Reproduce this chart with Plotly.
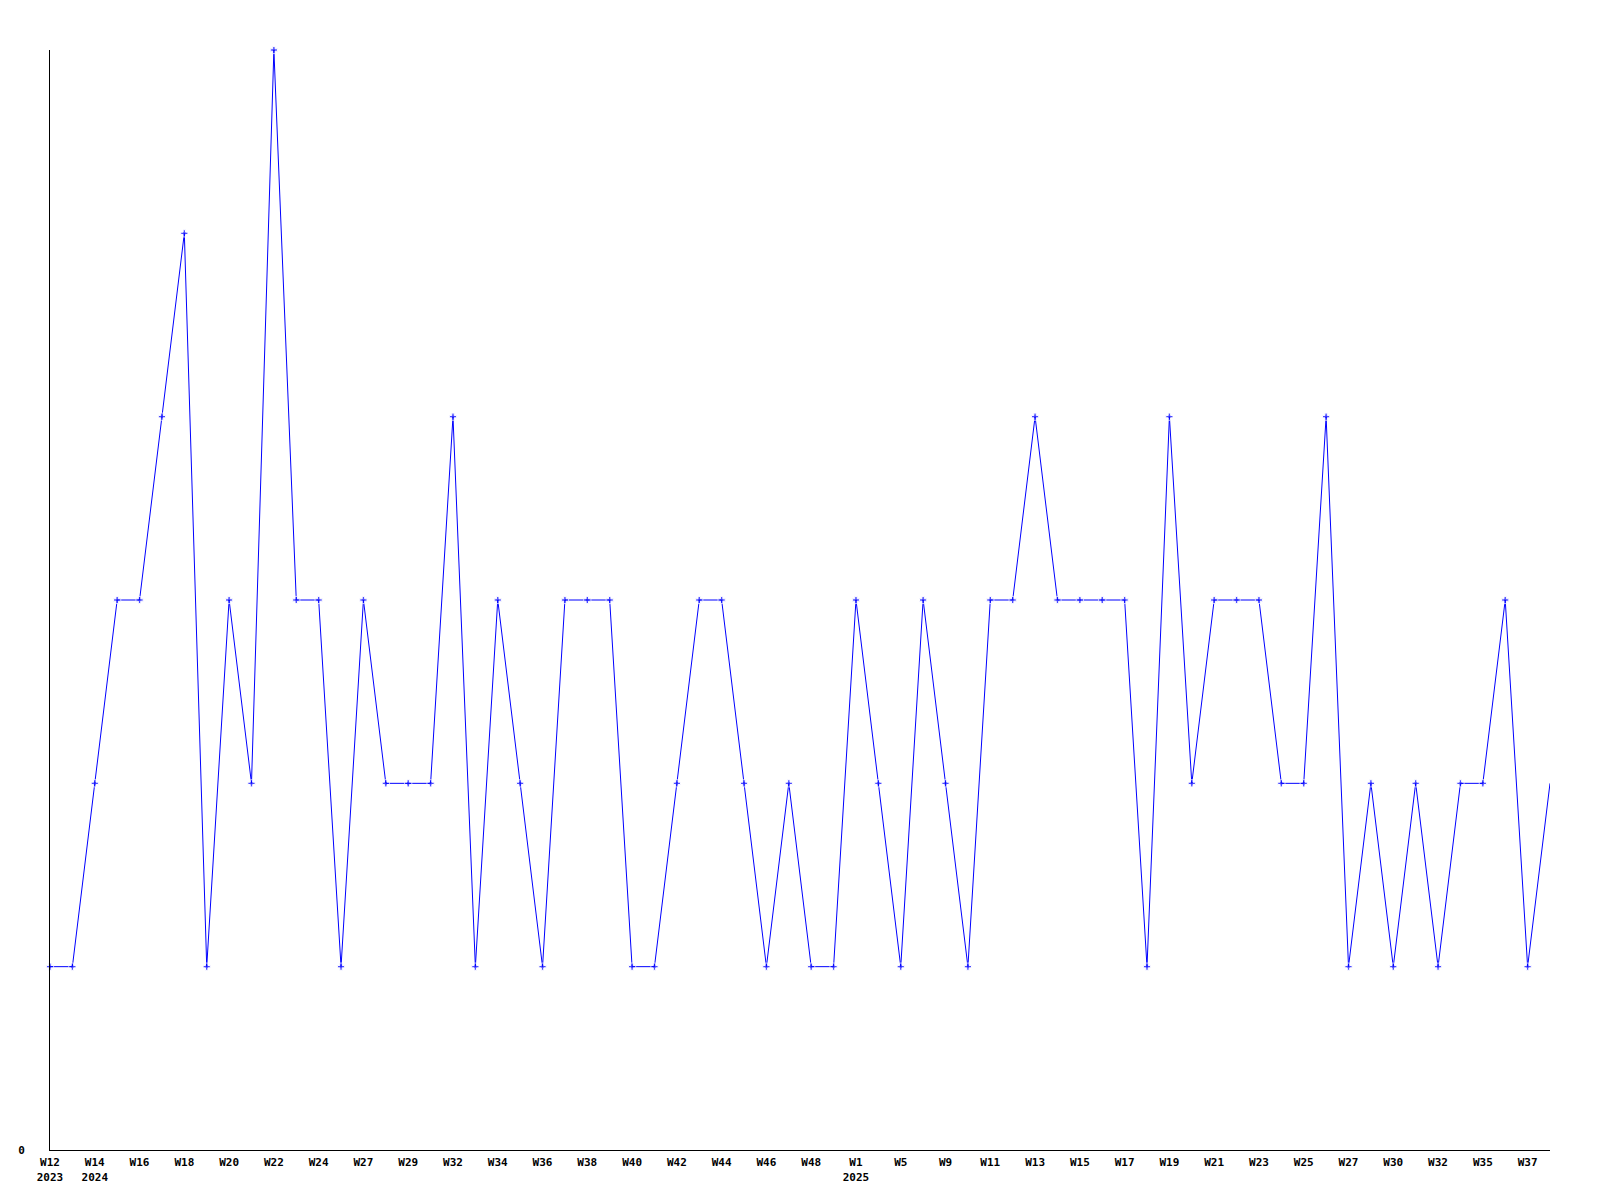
import plotly.graph_objects as go

# Tygodnie (kategorie) i liczba zdarzeń w każdym z nich
weeks = [
    "2023-W12", "2024-W13", "2024-W14", "2024-W15", "2024-W16", "2024-W17",
    "2024-W18", "2024-W19", "2024-W20", "2024-W21", "2024-W22", "2024-W23",
    "2024-W24", "2024-W26", "2024-W27", "2024-W28", "2024-W29", "2024-W31",
    "2024-W32", "2024-W33", "2024-W34", "2024-W35", "2024-W36", "2024-W37",
    "2024-W38", "2024-W39", "2024-W40", "2024-W41", "2024-W42", "2024-W43",
    "2024-W44", "2024-W45", "2024-W46", "2024-W47", "2024-W48", "2024-W50",
    "2025-W1", "2025-W3", "2025-W5", "2025-W7", "2025-W9", "2025-W10",
    "2025-W11", "2025-W12", "2025-W13", "2025-W14", "2025-W15", "2025-W16",
    "2025-W17", "2025-W18", "2025-W19", "2025-W20", "2025-W21", "2025-W22",
    "2025-W23", "2025-W24", "2025-W25", "2025-W26", "2025-W27", "2025-W29",
    "2025-W30", "2025-W31", "2025-W32", "2025-W34", "2025-W35", "2025-W36",
    "2025-W37", "2025-W38",
]
counts = [
    1, 1, 2, 3, 3, 4, 5, 1, 3, 2, 6, 3,
    3, 1, 3, 2, 2, 2, 4, 1, 3, 2, 1, 3,
    3, 3, 1, 1, 2, 3, 3, 2, 1, 2, 1, 1,
    3, 2, 1, 3, 2, 1, 3, 3, 4, 3, 3, 3,
    3, 1, 4, 2, 3, 3, 3, 2, 2, 4, 1, 2,
    1, 2, 1, 2, 2, 3, 1, 2,
]
y_ticks = [0]

n = len(counts)
xs = list(range(n))

# Etykiety osi X: co drugi tydzień, rok tylko przy zmianie
tickvals, ticktext = [], []
prev_year = None
for i in range(0, n, 2):
    year, wk = weeks[i].split("-")
    label = wk
    if year != prev_year:
        label += "<br>" + year
        prev_year = year
    tickvals.append(i)
    ticktext.append(label)

# ostatni punkt bez znacznika (ucięty na krawędzi)
sizes = [6] * (n - 1) + [0]

fig = go.Figure()
fig.add_trace(go.Scatter(
    x=xs, y=counts,
    mode="lines+markers",
    line=dict(color="#0000ff", width=1),
    marker=dict(symbol="cross", size=sizes, color="#0000ff"),
    cliponaxis=False,
    showlegend=False,
))

font = dict(family="DejaVu Sans Mono", size=11, color="black", weight="bold")

# strona ma 8px marginesu body, stąd mniejsza figura i marginesy
fig.update_layout(
    width=1584, height=1184,
    margin=dict(l=42, r=42, t=42, b=42),
    plot_bgcolor="white", paper_bgcolor="white",
    font=font,
)
fig.update_xaxes(
    range=[0, n - 1],
    tickvals=tickvals, ticktext=ticktext,
    showgrid=False, zeroline=False,
    showline=True, linecolor="black", linewidth=1,
    ticks="", ticklabelstandoff=2, automargin=False,
    tickfont=font,
)
fig.update_yaxes(
    range=[0, 6],
    tickvals=y_ticks, ticktext=[str(v) for v in y_ticks],
    showgrid=False, zeroline=False,
    showline=True, linecolor="black", linewidth=1,
    ticks="", ticklabelstandoff=22, automargin=False,
    tickfont=font,
)

fig.write_html("out.html")
